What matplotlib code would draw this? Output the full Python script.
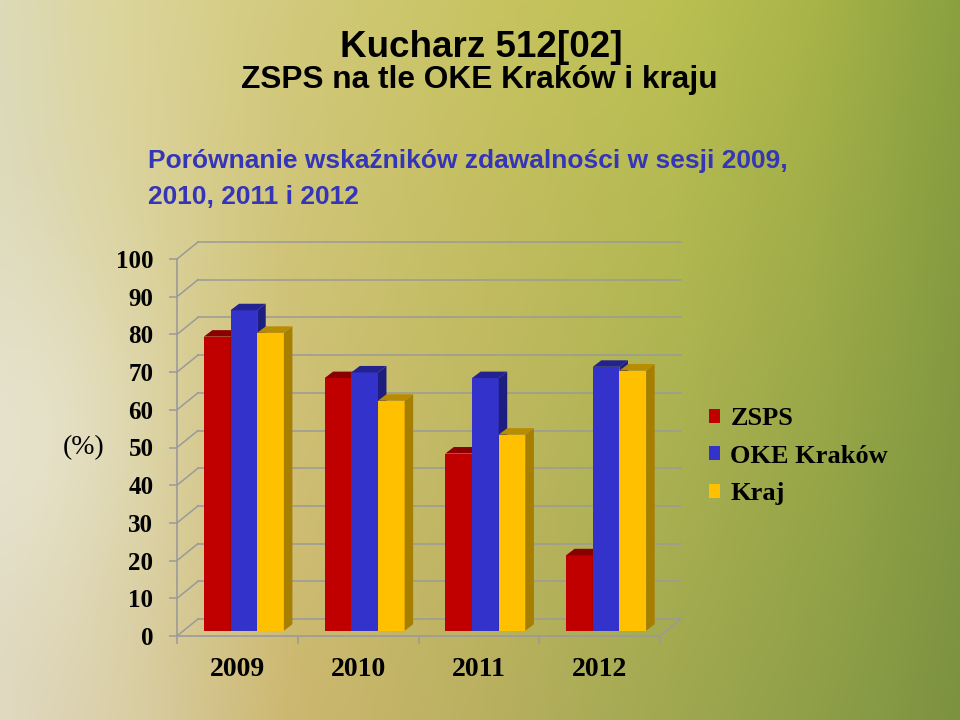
import numpy as np
import matplotlib
matplotlib.use("Agg")
import matplotlib.pyplot as plt
from matplotlib.patches import Polygon, Patch
from matplotlib.transforms import ScaledTranslation
import matplotlib.colors as mcolors

# ---------------- data ----------------
categories = ['2009', '2010', '2011', '2012']
zsps = [78, 67, 47, 20]
oke_krakow = [85, 68.5, 67, 70]
kraj = [79, 61, 52, 69]
series_names = ['ZSPS', 'OKE Kraków', 'Kraj']
y_ticks = [0, 10, 20, 30, 40, 50, 60, 70, 80, 90, 100]

title1 = 'Kucharz 512[02]'
title2 = 'ZSPS na tle OKE Kraków i kraju'
subtitle1 = 'Porównanie wskaźników zdawalności w sesji 2009,'
subtitle2 = '2010, 2011 i 2012'
ylabel = '(%)'

# ---------------- style ----------------
front_cols = ['#C00000', '#3333CC', '#FFC000']
top_cols = ['#8A0000', '#232390', '#B88C00']
side_cols = ['#7A0000', '#1E1E80', '#A67E00']
grid_col = '#9A9A9A'
serif = ['Liberation Serif', 'DejaVu Serif']
sans = ['Liberation Sans', 'DejaVu Sans']

fig = plt.figure(figsize=(9.6, 7.2), dpi=100)

# background gradient
H, W = 360, 480
xs = np.linspace(0, 1, W)
ys = np.linspace(0, 1, H)
top_pos = [0, 0.12, 0.3, 0.5, 0.7, 0.85, 1.0]
top_row = ['#dcdab8', '#dcd59c', '#d2ca7c', '#c8c462', '#bcc052', '#a8b448', '#8aa040']
bot_pos = [0, 0.15, 0.3, 0.5, 0.7, 0.85, 1.0]
bot_row = ['#e0d8c0', '#d8cca0', '#cdb870', '#bab060', '#a0a850', '#8f9f48', '#7c9240']
def row(pos, colors):
    rgb = np.array([mcolors.to_rgb(c) for c in colors])
    return np.stack([np.interp(xs, pos, rgb[:, k]) for k in range(3)], axis=-1)
tr, br = row(top_pos, top_row), row(bot_pos, bot_row)
t = ys[:, None, None]
bg = tr[None, :, :] * (1 - t) + br[None, :, :] * t
X, Y = np.meshgrid(xs, ys)
glow = np.exp(-(((X - 0.03) / 0.12) ** 2 + ((Y - 0.6) / 0.25) ** 2))[..., None]
bg = bg * (1 - 0.5 * glow) + np.array(mcolors.to_rgb('#eeecdc')) * 0.5 * glow
bgax = fig.add_axes([0, 0, 1, 1], zorder=-10)
bgax.imshow(np.clip(bg, 0, 1), aspect='auto', extent=[0, 1, 0, 1], origin='upper')
bgax.set_axis_off()

# main axes (front plane)
L, R, B, T = 177, 660, 636, 259
ax = fig.add_axes([L / 960, 1 - B / 720, (R - L) / 960, (B - T) / 720])
ax.patch.set_alpha(0)
ncat = len(categories)
ax.set_xlim(0, ncat)
ax.set_ylim(0, 100)
for s in ['top', 'right']:
    ax.spines[s].set_visible(False)
for s in ['left', 'bottom']:
    ax.spines[s].set_color(grid_col)
    ax.spines[s].set_linewidth(1.2)

p0 = ax.transData.transform((0, 0))
p1 = ax.transData.transform((1, 1))
ppx = p1[0] - p0[0]
ppy = p1[1] - p0[1]

# back wall / depth lines
dxw, dyw = 21 / ppx, 17 / ppy
for yv in y_ticks:
    ax.plot([0, dxw], [yv, yv + dyw], color=grid_col, lw=1.1, clip_on=False, zorder=1)
    ax.plot([dxw, ncat + dxw], [yv + dyw, yv + dyw], color=grid_col, lw=1.1, clip_on=False, zorder=1)
ax.plot([ncat, ncat + dxw], [0, dyw], color=grid_col, lw=1.1, clip_on=False, zorder=1)

# bars
bar_shift = ScaledTranslation(6.5 / 100, 5.3 / 100, fig.dpi_scale_trans)
btrans = ax.transData + bar_shift
bw = 0.221
ddx, ddy = 8.5 / ppx, 6.5 / ppy
x_idx = np.arange(ncat)
all_series = [zsps, oke_krakow, kraj]
for i in range(ncat):
    for j, vals in enumerate(all_series):
        xc = x_idx[i] + 0.5 + (j - 1) * bw
        h = vals[i]
        ax.bar(xc, h, width=bw, color=front_cols[j], transform=btrans,
               clip_on=False, zorder=3 + i * 3 + j, linewidth=0)
        x0, x1 = xc - bw / 2, xc + bw / 2
        side = Polygon([(x1, 0), (x1, h), (x1 + ddx, h + ddy), (x1 + ddx, ddy)],
                       closed=True, facecolor=side_cols[j], edgecolor='none',
                       transform=btrans, clip_on=False, zorder=3 + i * 3 + j)
        top = Polygon([(x0, h), (x1, h), (x1 + ddx, h + ddy), (x0 + ddx, h + ddy)],
                      closed=True, facecolor=top_cols[j], edgecolor='none',
                      transform=btrans, clip_on=False, zorder=3 + i * 3 + j)
        ax.add_patch(side)
        ax.add_patch(top)

# ticks
ax.set_yticks(y_ticks)
ax.set_yticklabels([str(v) for v in y_ticks], fontfamily=serif, fontweight='bold', fontsize=18)
ax.tick_params(axis='y', length=6, width=1.1, color=grid_col, pad=11)
ax.set_xticks(x_idx + 0.5)
ax.set_xticklabels(categories, fontfamily=serif, fontweight='bold', fontsize=20)
ax.set_xticks(np.arange(ncat + 1), minor=True)
ax.tick_params(axis='x', which='major', length=0, pad=15)
ax.tick_params(axis='x', which='minor', length=6, width=1.1, color=grid_col)

# titles
fig.text(481 / 960, 1 - 57 / 720, title1, ha='center', va='baseline',
         fontfamily=sans, fontweight='bold', fontsize=26.5, color='black')
fig.text(479 / 960, 1 - 88 / 720, title2, ha='center', va='baseline',
         fontfamily=sans, fontweight='bold', fontsize=22.8, color='black')
fig.text(148 / 960, 1 - 168 / 720, subtitle1, ha='left', va='baseline',
         fontfamily=sans, fontweight='bold', fontsize=19, color='#3535B8')
fig.text(148 / 960, 1 - 204 / 720, subtitle2, ha='left', va='baseline',
         fontfamily=sans, fontweight='bold', fontsize=19, color='#3535B8')
fig.text(84 / 960, 1 - 448 / 720, ylabel, ha='center', va='center',
         fontfamily=serif, fontsize=20, color='black')

# legend
handles = [Patch(facecolor=c, edgecolor='none') for c in front_cols]
leg = fig.legend(handles, series_names, loc='upper left',
                 bbox_to_anchor=(709 / 960, 1 - 407 / 720), frameon=False,
                 prop={'family': serif, 'weight': 'bold', 'size': 19},
                 handlelength=0.43, handleheight=0.43, handletextpad=0.38,
                 labelspacing=0.55, borderpad=0, borderaxespad=0)

fig.savefig('out.png', dpi=100)
